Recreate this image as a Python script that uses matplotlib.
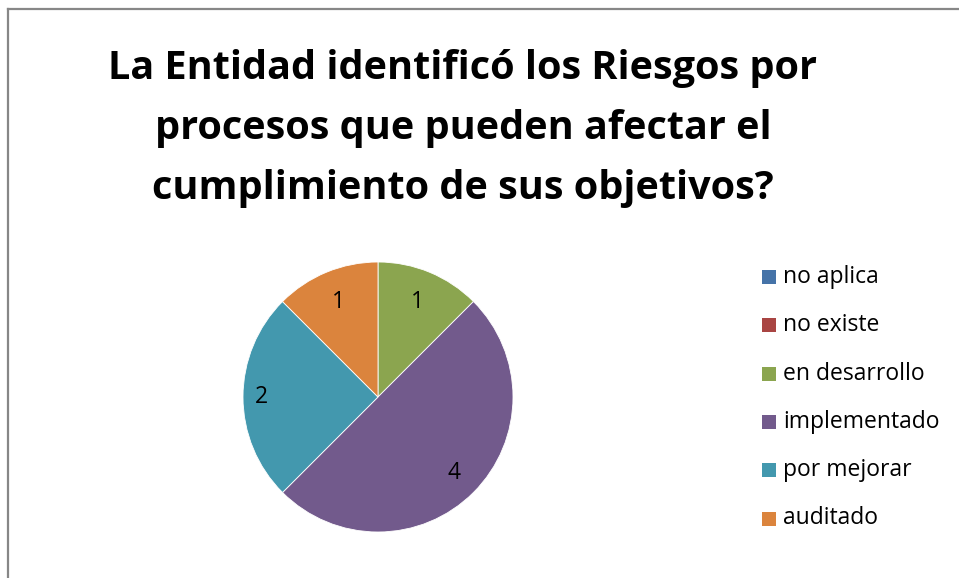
import matplotlib
matplotlib.use("Agg")
import matplotlib.pyplot as plt
import numpy as np
from matplotlib.lines import Line2D

categories = ["no aplica", "no existe", "en desarrollo", "implementado", "por mejorar", "auditado"]
values = [0, 0, 1, 4, 2, 1]
colors = ["#4573A8", "#A94543", "#8BA54F", "#725A8C", "#4398AE", "#DB843D"]
title_lines = ["La Entidad identificó los Riesgos por",
               "procesos que pueden afectar el",
               "cumplimiento de sus objetivos?"]

W, H = 959, 578
fig = plt.figure(figsize=(W / 100, H / 100), dpi=100)
fig.patch.set_facecolor("white")

# border (top and left)
fig.add_artist(Line2D([8 / W, 1], [1 - 9 / H, 1 - 9 / H], color="#878787", lw=1.6, transform=fig.transFigure))
fig.add_artist(Line2D([8 / W, 8 / W], [0, 1 - 9 / H], color="#878787", lw=1.6, transform=fig.transFigure))

FONT = "Open Sans"
# title
fs_title = 28.5
for i, line in enumerate(title_lines):
    fig.text(463 / W, 1 - (68 + 60 * i) / H, line, ha="center", va="center",
             fontsize=fs_title, fontweight="bold", family=FONT, color="black")

# pie
cx, cy, r = 378, 397, 135
ax = fig.add_axes([(cx - r) / W, 1 - (cy + r) / H, 2 * r / W, 2 * r / H])
wedges, _ = ax.pie(values, colors=colors, startangle=90, counterclock=False,
                   wedgeprops=dict(linewidth=0.6, edgecolor="white"))
ax.set_xlim(-1, 1)
ax.set_ylim(-1, 1)
ax.set_aspect("equal")

# data labels
dist = {2: 0.76, 3: 0.80, 4: 0.86, 5: 0.76}
total = sum(values)
ang = 90.0
for i, v in enumerate(values):
    span = 360.0 * v / total
    if v > 0:
        mid = np.deg2rad(ang - span / 2)
        d = dist.get(i, 0.78)
        ax.text(d * np.cos(mid), d * np.sin(mid), str(v), ha="center", va="center",
                fontsize=16.5, family=FONT, color="black")
    ang -= span

# legend
for i, (c, col) in enumerate(zip(categories, colors)):
    y = 277 + 48.3 * i
    fig.add_artist(plt.Rectangle((762 / W, 1 - (y + 7) / H), 14 / W, 14 / H,
                                 facecolor=col, edgecolor="none", transform=fig.transFigure))
    fig.text(783 / W, 1 - y / H, c, ha="left", va="center", fontsize=16.5,
             family=FONT, color="black")

fig.savefig("out.png", dpi=100, facecolor="white")
